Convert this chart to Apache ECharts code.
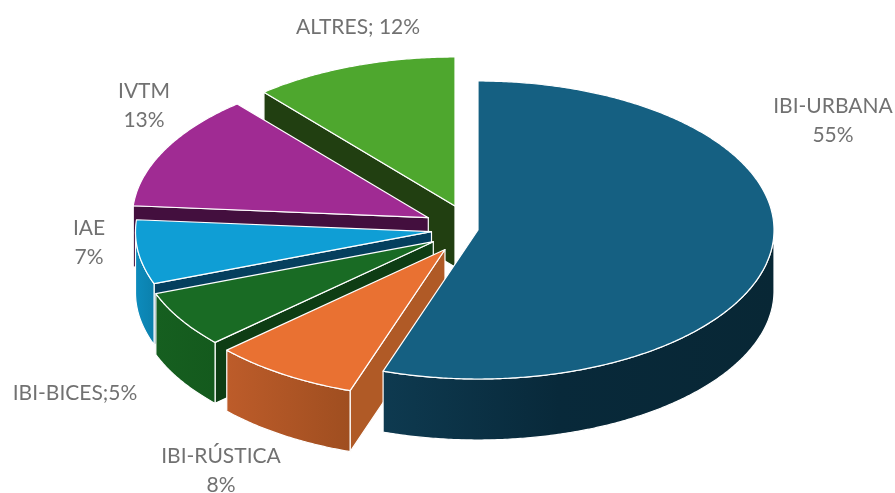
<!DOCTYPE html>
<html>
<head>
<meta charset="utf-8">
<style>html,body{margin:0;padding:0;background:#fff}#c{width:895px;height:493px}</style>
<script src="https://cdn.jsdelivr.net/npm/echarts@6/dist/echarts.min.js"></script>
</head>
<body>
<div id="c"></div>
<script>
// DATA
const categories = ['IBI-URBANA', 'IBI-RÚSTICA', 'IBI-BICES', 'IAE', 'IVTM', 'ALTRES'];
const values = [55, 8, 5, 7, 13, 12];
const labelSeparators = ['\n', '\n', ';', '\n', '\n', '; '];

// STYLE
const topColors = ['#156082', '#E97132', '#196B24', '#0F9ED5', '#A02B93', '#4EA72E'];
const radialWallColors = ['#0b3448', '#b05a26', '#0e3d14', '#053f5e', '#430f3e', '#213f11'];
const outerWallStops = [
  [[0, '#0e3a50'], [0.45, '#08293a'], [1, '#082735']],
  [[0, '#bd5c2a'], [1, '#9f4e20']],
  [[0, '#165f20'], [1, '#145a1d']],
  [[0, '#0d8cbd'], [1, '#0b80ac']],
  [[0, '#6d1d64'], [1, '#6d1d64']],
  [[0, '#35721f'], [1, '#35721f']]
];

// LAYOUT
const center = [478, 230];
const radiusX = 296, radiusY = 149, depth = 61;
const explodeX = [0, -33, -44.7, -46.5, -49.7, -23];
const explodeY = [0, 19.5, 11.7, 1.7, -12.3, -24];
// perspective shift of each slice boundary, in degrees
const boundaryShift = [0, 0.7, 0.7, 4.8, 4.6, 3.0, 0];
const labelX = [833, 221, 75, 89, 144, 358];
const labelY = [120.5, 471, 393, 243, 106, 27];
const drawOrder = [5, 4, 3, 2, 1, 0];

const total = values.reduce((a, b) => a + b, 0);
const bounds = [0];
values.forEach((v, i) => bounds.push(bounds[i] + v / total * 360));

function rim(cx, cy, deg) {
  const t = deg * Math.PI / 180;
  return [cx + radiusX * Math.sin(t), cy - radiusY * Math.cos(t)];
}
function arc(cx, cy, a, b) {
  const pts = [];
  const n = Math.max(2, Math.ceil(Math.abs(b - a) * 2));
  for (let k = 0; k <= n; k++) pts.push(rim(cx, cy, a + (b - a) * k / n));
  return pts;
}
const edge = { stroke: '#ffffff', lineWidth: 1.2, lineJoin: 'round' };

function renderItem(params) {
  const i = drawOrder[params.dataIndex];
  const cx = center[0] + explodeX[i], cy = center[1] + explodeY[i];
  const a = bounds[i] + boundaryShift[i], b = bounds[i + 1] + boundaryShift[i + 1];
  const children = [];

  // radial wall on the starting edge of the slice
  const s = rim(cx, cy, a);
  if (i !== 0) {
    children.push({
      type: 'polygon',
      shape: { points: [[cx, cy], s, [s[0], s[1] + depth], [cx, cy + depth]] },
      style: Object.assign({ fill: radialWallColors[i] }, edge)
    });
  }
  // outer wall, visible on the front half of the rim
  const wa = Math.max(a, 90), wb = Math.min(b, 270);
  if (wb > wa) {
    const up = arc(cx, cy, wa, wb);
    const down = up.map(p => [p[0], p[1] + depth]).reverse();
    children.push({
      type: 'polygon',
      shape: { points: up.concat(down) },
      style: Object.assign({
        fill: {
          type: 'linear', x: 1, y: 0, x2: 0, y2: 0,
          colorStops: outerWallStops[i].map(c => ({ offset: 1 - c[0], color: c[1] })).reverse()
        }
      }, edge)
    });
  }
  // top face
  children.push({
    type: 'polygon',
    shape: { points: [[cx, cy]].concat(arc(cx, cy, a, b)) },
    style: Object.assign({ fill: topColors[i] }, edge)
  });
  return { type: 'group', children };
}

const labelData = categories.map((c, i) => ({
  name: c,
  value: [labelX[i], labelY[i]],
  label: {
    formatter: c + labelSeparators[i] + values[i] + '%'
  }
}));

const chart = echarts.init(document.getElementById('c'), null, { renderer: 'canvas' });
chart.setOption({
  animation: false,
  backgroundColor: '#ffffff',
  grid: { left: 0, right: 0, top: 0, bottom: 0 },
  xAxis: { type: 'value', min: 0, max: 895, show: false },
  yAxis: { type: 'value', min: 0, max: 493, inverse: true, show: false },
  series: [
    {
      type: 'custom',
      coordinateSystem: 'none',
      renderItem,
      data: drawOrder.map(i => values[i]),
      silent: true,
      z: 2
    },
    {
      type: 'scatter',
      data: labelData,
      symbolSize: 0,
      silent: true,
      z: 3,
      label: {
        show: true,
        position: 'inside',
        color: '#4d4d4d',
        fontFamily: 'Lato',
        fontSize: 21,
        lineHeight: 29,
        align: 'center',
        verticalAlign: 'middle'
      }
    }
  ]
});
</script>
</body>
</html>
